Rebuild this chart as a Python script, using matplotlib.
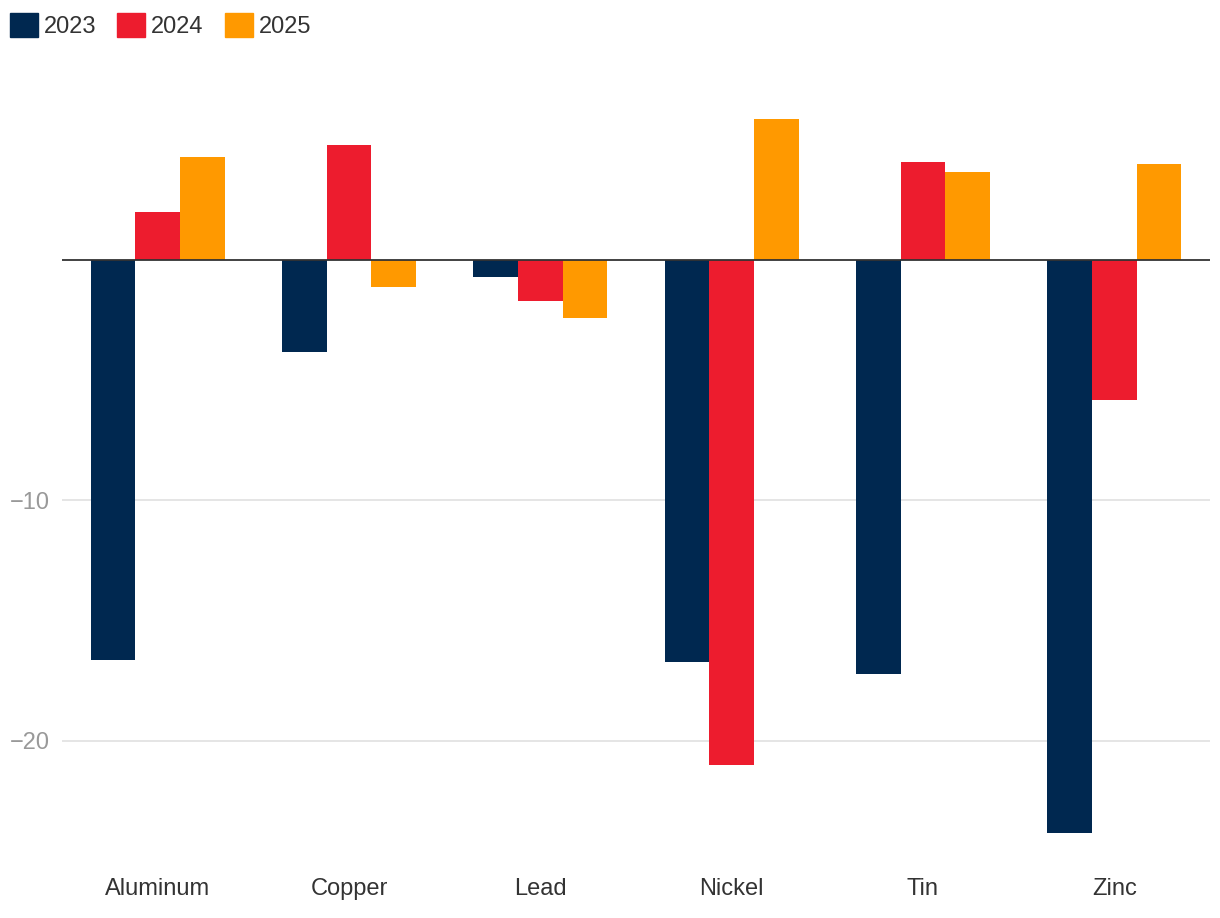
import matplotlib
matplotlib.use("Agg")
import matplotlib.pyplot as plt
import matplotlib.patches as mpatches
import numpy as np

plt.rcParams['font.family'] = ['Liberation Sans', 'DejaVu Sans']

metals = ["Aluminum", "Copper", "Lead", "Nickel", "Tin", "Zinc"]
years = ["2023", "2024", "2025"]
v2023 = [-16.63, -3.83, -0.71, -16.72, -17.21, -23.83]
v2024 = [2.0, 4.78, -1.70, -21.0, 4.07, -5.82]
v2025 = [4.28, -1.12, -2.41, 5.86, 3.66, 3.99]
colors = ["#002850", "#ED1C2E", "#FF9900"]


def main():
    fig = plt.figure(figsize=(12.2, 9.18), dpi=100)
    ax = fig.add_axes([62 / 1220, 1 - 861 / 918, (1210 - 62) / 1220, (861 - 60) / 918])

    x = np.arange(len(metals))
    width = 0.234
    series = [v2023, v2024, v2025]
    for i, (vals, col) in enumerate(zip(series, colors)):
        ax.bar(x + (i - 1) * width, vals, width, color=col, zorder=3, linewidth=0)

    ax.set_xlim(-0.5, len(metals) - 0.5)
    ax.set_ylim(-25, 8.3)
    ax.set_yticks([-20, -10])
    ax.set_yticklabels(["\u221220", "\u221210"])
    ax.set_xticks(x)
    ax.set_xticklabels(metals)
    ax.grid(axis='y', color='#e0e0e0', linewidth=1.2, zorder=0)
    ax.axhline(0, color='#333333', linewidth=1.3, zorder=4)

    for s in ax.spines.values():
        s.set_visible(False)
    ax.tick_params(axis='both', length=0)
    ax.tick_params(axis='y', labelsize=17, labelcolor='#999999', pad=8.5)
    ax.tick_params(axis='x', labelsize=17, labelcolor='#333333', pad=12)

    handles = [mpatches.Patch(color=c, label=y) for c, y in zip(colors, years)]
    fig.legend(handles=handles, loc='upper left', bbox_to_anchor=(-0.0057, 1.004),
               ncol=3, frameon=False, fontsize=17, labelcolor='#333333',
               handlelength=1.19, handleheight=1.19, handletextpad=0.25,
               columnspacing=0.9, borderaxespad=0.3)

    plt.savefig("out.png", dpi=100)


if __name__ == '__main__':
    main()
